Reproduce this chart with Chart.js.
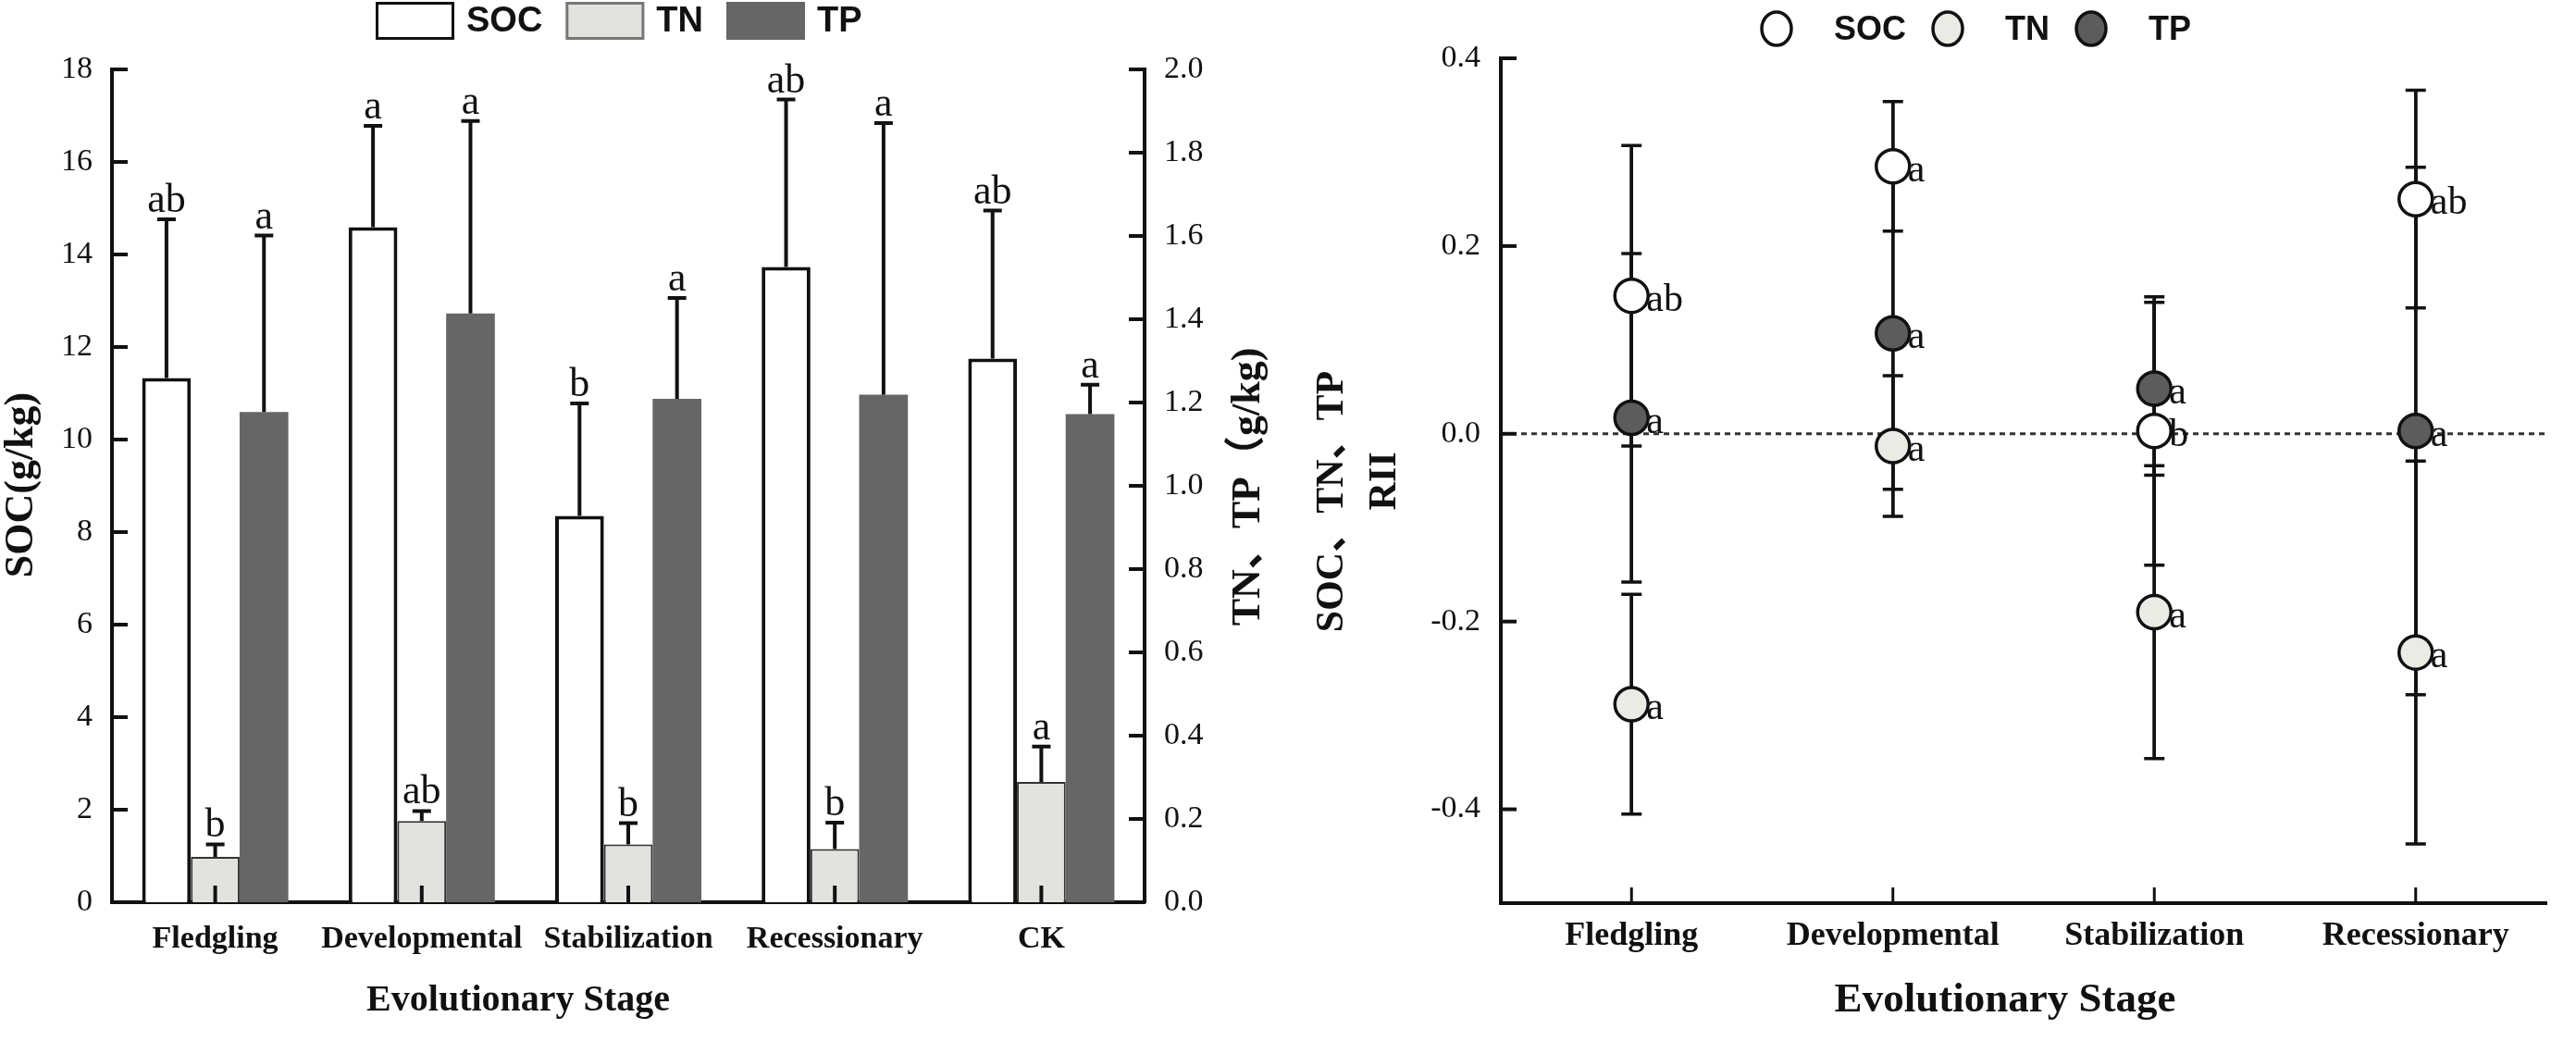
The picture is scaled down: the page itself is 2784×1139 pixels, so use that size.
<!DOCTYPE html>
<html>
<head>
<meta charset="utf-8">
<script src="https://cdn.jsdelivr.net/npm/chart.js@4.4.1/dist/chart.umd.min.js"></script>
<style>
  html, body { margin: 0; padding: 0; background: #fff; }
  body { width: 2784px; height: 1139px; position: relative; overflow: hidden; }
  canvas { position: absolute; top: 0; }
  #barChart { left: 0; }
  #riiChart { left: 1420px; }
</style>
</head>
<body>
<canvas id="barChart" width="1420" height="1139"></canvas>
<canvas id="riiChart" width="1364" height="1139"></canvas>
<script>
// ---- left panel: nutrient contents ----
const stages = ['Fledgling', 'Developmental', 'Stabilization', 'Recessionary', 'CK'];
const socMean = [11.33, 14.59, 8.35, 13.73, 11.75];
const socErr = [3.43, 2.19, 2.43, 3.62, 3.20];
const tnMean = [0.109, 0.195, 0.139, 0.128, 0.289];
const tnErr = [0.030, 0.024, 0.051, 0.063, 0.085];
const tpMean = [1.177, 1.414, 1.209, 1.219, 1.172];
const tpErr = [0.424, 0.462, 0.242, 0.652, 0.071];
const socLetters = ['ab', 'a', 'b', 'ab', 'ab'];
const tnLetters = ['b', 'ab', 'b', 'b', 'a'];
const tpLetters = ['a', 'a', 'a', 'a', 'a'];
const socTicks = [0, 2, 4, 6, 8, 10, 12, 14, 16, 18];
const tnTpTicks = [0, 0.2, 0.4, 0.6, 0.8, 1.0, 1.2, 1.4, 1.6, 1.8, 2.0];

// ---- right panel: RII ----
const riiStages = ['Fledgling', 'Developmental', 'Stabilization', 'Recessionary'];
const socRII = [0.147, 0.285, 0.003, 0.250];
const socRIIErr = [0.160, 0.069, 0.143, 0.116];
const tnRII = [-0.288, -0.013, -0.190, -0.233];
const tnRIIErr = [0.117, 0.075, 0.156, 0.204];
const tpRII = [0.017, 0.107, 0.048, 0.003];
const tpRIIErr = [0.175, 0.166, 0.092, 0.281];
const socRIILetters = ['ab', 'a', 'b', 'ab'];
const tnRIILetters = ['a', 'a', 'a', 'a'];
const tpRIILetters = ['a', 'a', 'a', 'a'];
const riiTicks = [-0.4, -0.2, 0, 0.2, 0.4];

const SERIF = '"Liberation Serif", "Noto Sans CJK SC", serif';
const SANS = '"Liberation Sans", Arial, sans-serif';
const INK = '#111';

// short tick marks pointing into the plot
function drawInwardTicks(chart, axisId, len, width) {
    const s = chart.scales[axisId];
    const ctx = chart.ctx;
    ctx.save();
    ctx.strokeStyle = INK;
    ctx.lineWidth = width;
    s.ticks.forEach((t, i) => {
        const p = s.getPixelForTick(i);
        ctx.beginPath();
        if (s.axis === 'y') {
            const x0 = s.position === 'left' ? s.right : s.left;
            const dir = s.position === 'left' ? 1 : -1;
            ctx.moveTo(x0, p);
            ctx.lineTo(x0 + dir * len, p);
        } else {
            ctx.moveTo(p, s.top);
            ctx.lineTo(p, s.top - len);
        }
        ctx.stroke();
    });
    ctx.restore();
}

function drawText(ctx, text, x, y, font, rotate, baseline) {
    ctx.save();
    ctx.translate(x, y);
    if (rotate) ctx.rotate(-Math.PI / 2);
    ctx.font = font;
    ctx.fillStyle = INK;
    ctx.textAlign = 'center';
    ctx.textBaseline = baseline || 'middle';
    ctx.fillText(text, 0, 0);
    ctx.restore();
}

function drawErrorBar(ctx, x, y1, y2, capHalf) {
    ctx.beginPath();
    ctx.moveTo(x, y1);
    ctx.lineTo(x, y2);
    ctx.moveTo(x - capHalf, y2);
    ctx.lineTo(x + capHalf, y2);
    ctx.stroke();
}

const barExtras = {
    id: 'barExtras',
    afterDatasetsDraw(chart) {
        const ctx = chart.ctx;
        ctx.save();
        ctx.strokeStyle = INK;
        ctx.lineWidth = 4;
        chart.data.datasets.forEach((ds, d) => {
            const meta = chart.getDatasetMeta(d);
            const yScale = chart.scales[ds.yAxisID];
            meta.data.forEach((bar, i) => {
                const top = yScale.getPixelForValue(ds.data[i]);
                const cap = yScale.getPixelForValue(ds.data[i] + ds.errors[i]);
                drawErrorBar(ctx, bar.x, top, cap, 10);
                if (ds.baseStub) {
                    const base = yScale.getPixelForValue(0);
                    ctx.beginPath();
                    ctx.moveTo(bar.x, base);
                    ctx.lineTo(bar.x, base - 18);
                    ctx.stroke();
                }
                ctx.font = '44px ' + SERIF;
                ctx.fillStyle = INK;
                ctx.textAlign = 'center';
                ctx.textBaseline = 'alphabetic';
                ctx.fillText(ds.letters[i], bar.x, cap - 8);
            });
        });
        ctx.restore();
    },
    afterDraw(chart) {
        const ctx = chart.ctx;
        drawInwardTicks(chart, 'y', 17, 4);
        drawInwardTicks(chart, 'y1', 17, 4);

        // legend
        ctx.save();
        ctx.font = 'bold 38px ' + SANS;
        let x = 406;
        const cy = 22;
        chart.data.datasets.forEach(ds => {
            ctx.fillStyle = ds.backgroundColor;
            ctx.fillRect(x, cy - 20, 85, 41);
            if (ds.legendBorder) {
                ctx.strokeStyle = ds.legendBorder;
                ctx.lineWidth = 3;
                ctx.strokeRect(x + 1.5, cy - 18.5, 82, 38);
            }
            x += 85 + 13;
            ctx.fillStyle = INK;
            ctx.textAlign = 'left';
            ctx.textBaseline = 'middle';
            ctx.fillText(ds.label, x, cy + 2);
            x += ctx.measureText(ds.label).width + 25;
        });
        ctx.restore();

        drawText(ctx, 'SOC(g/kg)', 24, 524, 'bold 44px ' + SERIF, true);
        drawText(ctx, 'TN、TP（g/kg)', 1350, 526, 'bold 44px ' + SERIF, true);
        drawText(ctx, 'Evolutionary Stage', 560, 1092, 'bold 40px ' + SERIF, false, 'alphabetic');
    }
};

new Chart(document.getElementById('barChart'), {
    type: 'bar',
    data: {
        labels: stages,
        datasets: [
            { label: 'SOC', data: socMean, errors: socErr, letters: socLetters, yAxisID: 'y',
              backgroundColor: '#ffffff', borderColor: INK, borderWidth: 4, legendBorder: INK },
            { label: 'TN', data: tnMean, errors: tnErr, letters: tnLetters, yAxisID: 'y1', baseStub: true,
              backgroundColor: '#e2e2de', borderColor: '#333', borderWidth: 2, legendBorder: '#777' },
            { label: 'TP', data: tpMean, errors: tpErr, letters: tpLetters, yAxisID: 'y1',
              backgroundColor: '#666666', borderWidth: 0 },
        ],
    },
    options: {
        responsive: false,
        animation: false,
        devicePixelRatio: 1,
        layout: { padding: { top: 75, left: 0, right: 0, bottom: 0 } },
        datasets: { bar: { categoryPercentage: 0.708, barPercentage: 1.0 } },
        plugins: { legend: { display: false }, tooltip: { enabled: false } },
        scales: {
            x: {
                grid: { display: false, drawTicks: false },
                border: { display: true, color: INK, width: 4 },
                ticks: { font: { family: SERIF, size: 34, weight: 'bold' }, color: INK, padding: 20,
                         maxRotation: 0, minRotation: 0, autoSkip: false },
                afterFit: s => { s.height = 164; },
            },
            y: {
                position: 'left', min: 0, max: 18,
                afterBuildTicks: s => { s.ticks = socTicks.map(v => ({ value: v })); },
                grid: { display: false, drawTicks: false },
                border: { display: true, color: INK, width: 4 },
                ticks: { font: { family: SERIF, size: 34 }, color: INK, padding: 21 },
                afterFit: s => { s.width = 121; },
            },
            y1: {
                position: 'right', min: 0, max: 2,
                afterBuildTicks: s => { s.ticks = tnTpTicks.map(v => ({ value: v })); },
                grid: { display: false, drawTicks: false },
                border: { display: true, color: INK, width: 4 },
                ticks: { font: { family: SERIF, size: 34 }, color: INK, padding: 21,
                         callback: v => Number(v).toFixed(1) },
                afterFit: s => { s.width = 183; },
            },
        },
    },
    plugins: [barExtras],
});

const riiExtras = {
    id: 'riiExtras',
    beforeDatasetsDraw(chart) {
        const ctx = chart.ctx;
        const { left, right } = chart.chartArea;
        const y0 = chart.scales.y.getPixelForValue(0);
        ctx.save();
        ctx.strokeStyle = '#333';
        ctx.lineWidth = 3;
        ctx.setLineDash([6, 5]);
        ctx.beginPath();
        ctx.moveTo(left, y0);
        ctx.lineTo(right, y0);
        ctx.stroke();
        ctx.setLineDash([]);
        ctx.strokeStyle = INK;
        ctx.lineWidth = 3.5;
        chart.data.datasets.forEach((ds, d) => {
            const meta = chart.getDatasetMeta(d);
            meta.data.forEach((pt, i) => {
                const hi = chart.scales.y.getPixelForValue(ds.data[i] + ds.errors[i]);
                const lo = chart.scales.y.getPixelForValue(ds.data[i] - ds.errors[i]);
                drawErrorBar(ctx, pt.x, lo, hi, 11);
                drawErrorBar(ctx, pt.x, hi, lo, 11);
            });
        });
        ctx.restore();
    },
    afterDatasetsDraw(chart) {
        const ctx = chart.ctx;
        ctx.save();
        ctx.font = '42px ' + SERIF;
        ctx.fillStyle = INK;
        ctx.textAlign = 'left';
        ctx.textBaseline = 'alphabetic';
        chart.data.datasets.forEach((ds, d) => {
            chart.getDatasetMeta(d).data.forEach((pt, i) => {
                ctx.fillText(ds.letters[i], pt.x + 16, pt.y + 16);
            });
        });
        ctx.restore();
    },
    afterDraw(chart) {
        const ctx = chart.ctx;
        drawInwardTicks(chart, 'y', 17, 4);
        drawInwardTicks(chart, 'x', 17, 3);

        // legend
        ctx.save();
        ctx.font = 'bold 36px ' + SANS;
        let x = 483;
        const cy = 31;
        chart.data.datasets.forEach(ds => {
            ctx.beginPath();
            ctx.ellipse(x + 17, cy, 16, 18, 0, 0, Math.PI * 2);
            ctx.fillStyle = ds.pointBackgroundColor;
            ctx.fill();
            ctx.lineWidth = 3.5;
            ctx.strokeStyle = INK;
            ctx.stroke();
            x += 34 + 45;
            ctx.fillStyle = INK;
            ctx.textAlign = 'left';
            ctx.textBaseline = 'middle';
            ctx.fillText(ds.label, x, cy + 2);
            x += ctx.measureText(ds.label).width + 28;
        });
        ctx.restore();

        drawText(ctx, 'SOC、TN、TP', 20, 542, 'bold 42px ' + SERIF, true);
        drawText(ctx, 'RII', 77, 520, 'bold 42px ' + SERIF, true);
        drawText(ctx, 'Evolutionary Stage', 747, 1093, 'bold 45px ' + SERIF, false, 'alphabetic');
    }
};

const pointStyle = { showLine: false, pointRadius: 18, pointHoverRadius: 18, pointBorderWidth: 3.5, pointBorderColor: INK };

new Chart(document.getElementById('riiChart'), {
    type: 'line',
    data: {
        labels: riiStages,
        datasets: [
            { label: 'SOC', data: socRII, errors: socRIIErr, letters: socRIILetters, pointBackgroundColor: '#ffffff', ...pointStyle },
            { label: 'TN', data: tnRII, errors: tnRIIErr, letters: tnRIILetters, pointBackgroundColor: '#ebebe6', ...pointStyle },
            { label: 'TP', data: tpRII, errors: tpRIIErr, letters: tpRIILetters, pointBackgroundColor: '#5c5c5c', ...pointStyle },
        ],
    },
    options: {
        responsive: false,
        animation: false,
        devicePixelRatio: 1,
        layout: { padding: { top: 63, left: 0, right: 32, bottom: 0 } },
        plugins: { legend: { display: false }, tooltip: { enabled: false } },
        scales: {
            x: {
                offset: true,
                grid: { display: false, drawTicks: false, offset: true },
                border: { display: true, color: INK, width: 4 },
                ticks: { font: { family: SERIF, size: 36, weight: 'bold' }, color: INK, padding: 14,
                         maxRotation: 0, minRotation: 0, autoSkip: false },
                afterFit: s => { s.height = 163; },
            },
            y: {
                min: -0.5, max: 0.4,
                afterBuildTicks: s => { s.ticks = riiTicks.map(v => ({ value: v })); },
                grid: { display: false, drawTicks: false },
                border: { display: true, color: INK, width: 4 },
                ticks: { font: { family: SERIF, size: 34 }, color: INK, padding: 22,
                         callback: v => Number(v).toFixed(1) },
                afterFit: s => { s.width = 202; },
            },
        },
    },
    plugins: [riiExtras],
});
</script>
</body>
</html>
